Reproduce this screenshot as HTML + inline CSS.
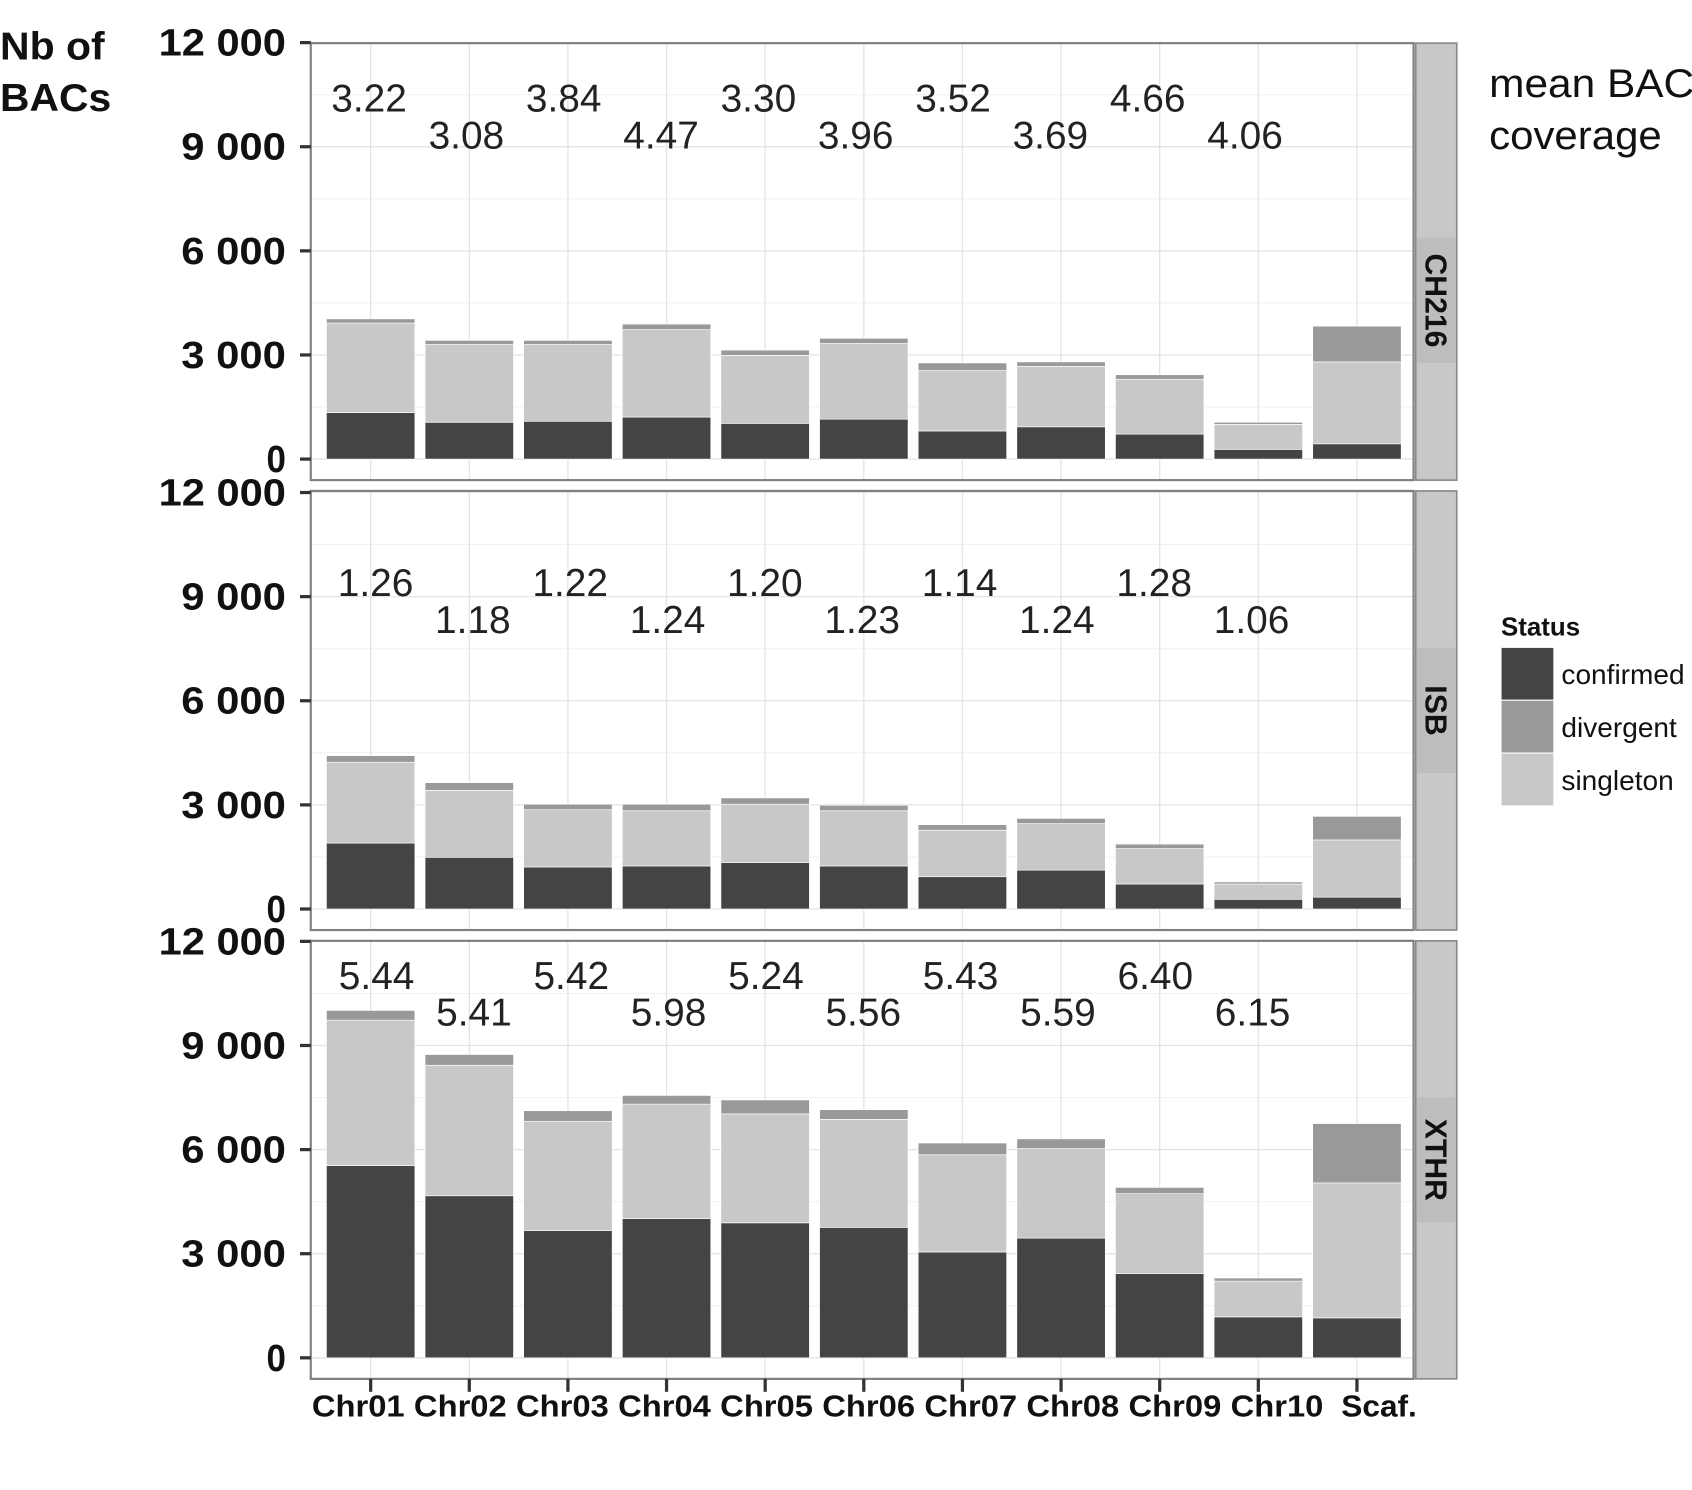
<!DOCTYPE html>
<html><head><meta charset="utf-8"><style>
html,body{margin:0;padding:0;background:#fff;}
svg{display:block;}
text{font-family:"Liberation Sans",Arial,sans-serif;}
</style></head><body>
<svg id="chart" xmlns="http://www.w3.org/2000/svg" width="1692" height="1490" viewBox="0 0 1568 1381" preserveAspectRatio="none">
</svg>
<script>
const categories = ["Chr01","Chr02","Chr03","Chr04","Chr05","Chr06","Chr07","Chr08","Chr09","Chr10","Scaf."];
const panels = ["CH216","ISB","XTHR"];
const confirmedCH216 = [1340,1060,1090,1210,1030,1150,810,930,720,280,440];
const divergentCH216 = [120,120,120,160,150,150,220,130,130,60,1030];
const singletonCH216 = [2580,2240,2210,2520,1960,2180,1740,1740,1580,720,2360];
const confirmedISB = [1900,1490,1210,1240,1340,1240,930,1120,720,280,340];
const divergentISB = [190,220,160,190,180,160,160,150,130,60,680];
const singletonISB = [2330,1930,1650,1590,1680,1590,1340,1340,1020,440,1650];
const confirmedXTHR = [5540,4670,3670,4010,3890,3760,3050,3450,2430,1180,1150];
const divergentXTHR = [280,310,310,250,400,280,340,280,180,90,1710];
const singletonXTHR = [4190,3760,3140,3300,3140,3110,2800,2580,2300,1030,3890];
const coverageCH216 = ["3.22","3.08","3.84","4.47","3.30","3.96","3.52","3.69","4.66","4.06"];
const coverageISB = ["1.26","1.18","1.22","1.24","1.20","1.23","1.14","1.24","1.28","1.06"];
const coverageXTHR = ["5.44","5.41","5.42","5.98","5.24","5.56","5.43","5.59","6.40","6.15"];
const yTicks = [0,3000,6000,9000,12000];
const yTickLabels = ["0","3 000","6 000","9 000","12 000"];
const legendLabels = ["confirmed","divergent","singleton"];

const NS="http://www.w3.org/2000/svg";
const svg=document.getElementById('chart');
function mk(tag,attrs,parent){const e=document.createElementNS(NS,tag);for(const k in attrs)e.setAttribute(k,attrs[k]);(parent||svg).appendChild(e);return e;}
const COL={confirmed:"#444444",divergent:"#999999",singleton:"#c8c8c8"};
const PX0=288,PX1=1310;
const panelGeom=[{top:40,bottom:445,y0:425.5,y12:39.5,cx:342},{top:455,bottom:862,y0:842.5,y12:456.5,cx:348},{top:872,bottom:1278,y0:1258.5,y12:872.5,cx:349}];
const step=91.4;
function xC(i){return 343.5+step*i;}
const barW=82;
const data=[[confirmedCH216,divergentCH216,singletonCH216,coverageCH216],[confirmedISB,divergentISB,singletonISB,coverageISB],[confirmedXTHR,divergentXTHR,singletonXTHR,coverageXTHR]];

panels.forEach((pn,p)=>{
  const g=panelGeom[p];
  const yS=v=>g.y0-(v/12000)*(g.y0-g.y12);
  const grp=mk('g',{});
  
  
  mk('rect',{x:PX0,y:g.top,width:PX1-PX0,height:g.bottom-g.top,fill:"#fff"},grp);
  for(let v=1500;v<12000;v+=3000){mk('line',{x1:PX0,x2:PX1,y1:yS(v),y2:yS(v),stroke:"#f2f2f2","stroke-width":1},grp);}
  yTicks.forEach(v=>{mk('line',{x1:PX0,x2:PX1,y1:yS(v),y2:yS(v),stroke:"#e3e3e3","stroke-width":1.2},grp);});
  categories.forEach((c,i)=>{mk('line',{x1:xC(i),x2:xC(i),y1:g.top,y2:g.bottom,stroke:"#e3e3e3","stroke-width":1.2},grp);});
  const [conf,div,sing,cov]=data[p];
  categories.forEach((c,i)=>{
    const x=xC(i)-barW/2;
    let base=0;
    [["confirmed",conf[i]],["singleton",sing[i]],["divergent",div[i]]].forEach(([k,v])=>{
      const r=mk('rect',{x:x,y:yS(base+v),width:barW,height:yS(base)-yS(base+v),fill:COL[k],stroke:"#fff","stroke-width":0.6},grp);
      
      
      base+=v;
    });
  });
  const ly1=yS(0)+ (p===0?-322:(p===1?-290:-342)), ly2=ly1+34;
  cov.forEach((t,i)=>{
    const tx=mk('text',{x:g.cx+90.2*i,y:(i%2===0?ly1:ly2),"text-anchor":"middle","font-size":36,fill:"#222"},grp);
    tx.textContent=t;
    
    
  });
  mk('rect',{x:PX0,y:g.top,width:PX1-PX0,height:g.bottom-g.top,fill:"none",stroke:"#7f7f7f","stroke-width":2},grp);
  yTicks.forEach((v,k)=>{
    mk('line',{x1:278,x2:PX0,y1:yS(v),y2:yS(v),stroke:"#333","stroke-width":3},grp);
    const len=yTickLabels[k].length===6?118:(yTickLabels[k].length===5?97:18);
    const t=mk('text',{x:265,y:yS(v)+12,"text-anchor":"end","font-size":35,"font-weight":"bold",fill:"#111",textLength:len,lengthAdjust:"spacingAndGlyphs"},grp);
    t.textContent=yTickLabels[k];
    
    
  });
  const cy=(g.top+g.bottom)/2;
  const s=mk('rect',{x:1312,y:g.top,width:38,height:g.bottom-g.top,fill:"#c8c8c8",stroke:"#888","stroke-width":1.5},grp);
  
  
  mk('rect',{x:1313,y:cy-58-(p===0?-36:0),width:36,height:116,fill:"#bdbdbd"},grp);
  const st=mk('text',{x:0,y:0,"text-anchor":"middle","font-size":28,"font-weight":"bold",fill:"#111",transform:`translate(1321,${cy-(p===0?-36:0)}) rotate(90)`},grp);
  st.textContent=pn;
  
  
});
categories.forEach((c,i)=>{
  mk('line',{x1:xC(i),x2:xC(i),y1:1278,y2:1290,stroke:"#333","stroke-width":3});
  const t=mk('text',{x:332+94.6*i,y:1313,"text-anchor":"middle","font-size":28,"font-weight":"bold",fill:"#111",textLength:(i===10?70:86),lengthAdjust:"spacingAndGlyphs"});
  t.textContent=c;
  
  
});
function txt(x,y,s,size,w,name,len){const a={x:x,y:y,"font-size":size,"font-weight":w,fill:"#111"};if(len){a.textLength=len;a.lengthAdjust="spacingAndGlyphs";}const t=mk('text',a);t.textContent=s;return t;}
txt(0,55,"Nb of",36,"bold","y-axis-title-line1",97);
txt(0,103,"BACs",36,"bold","y-axis-title-line2",103);
txt(1380,90,"mean BAC",37,"normal","coverage-title-line1",190);
txt(1380,138,"coverage",37,"normal","coverage-title-line2",160);
txt(1391,589,"Status",24,"bold","legend-title");
const lg=[["confirmed",600],["divergent",649],["singleton",698]];
lg.forEach(([k,y],i)=>{
  const r=mk('rect',{x:1391,y:y,width:49,height:49,fill:COL[k],stroke:"#fff","stroke-width":1});
  
  
  txt(1447,y+34,legendLabels[i],26,"normal","legend-entry-"+k);
});
</script>
</body></html>
